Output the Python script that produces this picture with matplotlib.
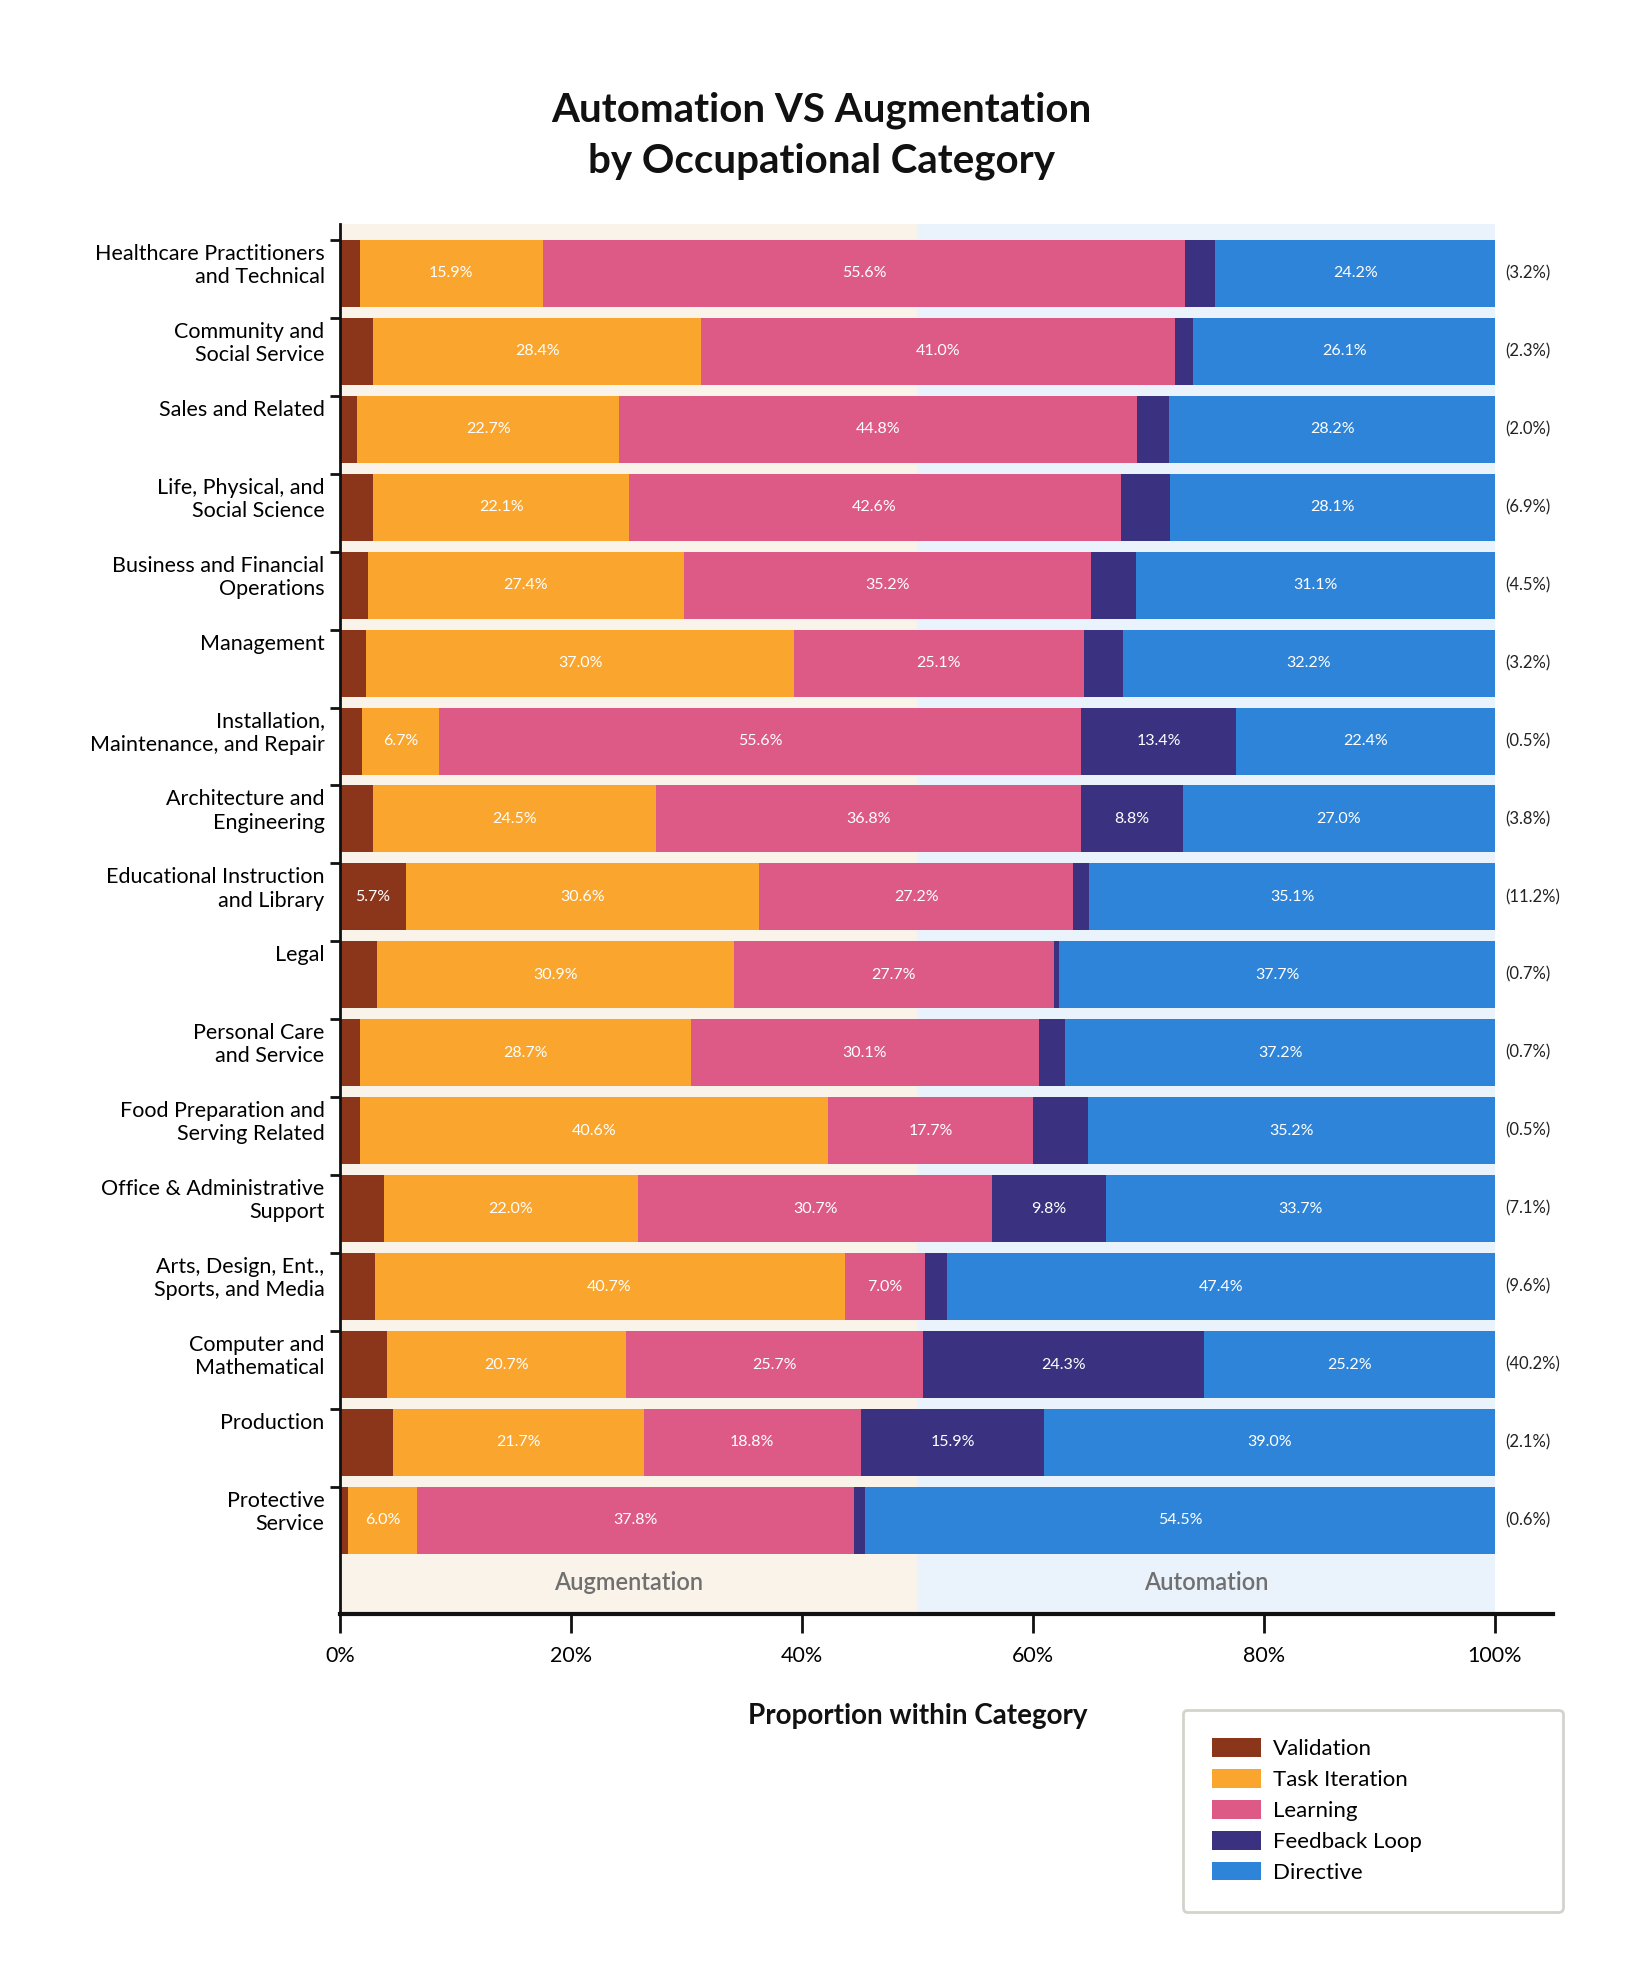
import matplotlib
matplotlib.use('Agg')
import matplotlib.pyplot as plt
import numpy as np
from matplotlib.patches import Patch
import matplotlib.transforms as mtransforms

plt.rcParams['font.family'] = ['Lato', 'DejaVu Sans']
plt.rcParams['ytick.alignment'] = 'top'

# data (percent within category)
categories = [
    'Healthcare Practitioners\nand Technical',
    'Community and\nSocial Service',
    'Sales and Related',
    'Life, Physical, and\nSocial Science',
    'Business and Financial\nOperations',
    'Management',
    'Installation,\nMaintenance, and Repair',
    'Architecture and\nEngineering',
    'Educational Instruction\nand Library',
    'Legal',
    'Personal Care\nand Service',
    'Food Preparation and\nServing Related',
    'Office & Administrative\nSupport',
    'Arts, Design, Ent.,\nSports, and Media',
    'Computer and\nMathematical',
    'Production',
    'Protective\nService',
]
validation     = [1.7, 2.9, 1.5, 2.9, 2.4, 2.3, 1.9, 2.9, 5.7, 3.2, 1.7, 1.7, 3.8, 3.0, 4.1, 4.6, 0.7]
task_iteration = [15.9, 28.4, 22.7, 22.1, 27.4, 37.0, 6.7, 24.5, 30.6, 30.9, 28.7, 40.6, 22.0, 40.7, 20.7, 21.7, 6.0]
learning       = [55.6, 41.0, 44.8, 42.6, 35.2, 25.1, 55.6, 36.8, 27.2, 27.7, 30.1, 17.7, 30.7, 7.0, 25.7, 18.8, 37.8]
feedback_loop  = [2.6, 1.6, 2.8, 4.3, 3.9, 3.4, 13.4, 8.8, 1.4, 0.5, 2.3, 4.8, 9.8, 1.9, 24.3, 15.9, 1.0]
directive      = [24.2, 26.1, 28.2, 28.1, 31.1, 32.2, 22.4, 27.0, 35.1, 37.7, 37.2, 35.2, 33.7, 47.4, 25.2, 39.0, 54.5]
share_labels   = ['(3.2%)', '(2.3%)', '(2.0%)', '(6.9%)', '(4.5%)', '(3.2%)', '(0.5%)', '(3.8%)',
                  '(11.2%)', '(0.7%)', '(0.7%)', '(0.5%)', '(7.1%)', '(9.6%)', '(40.2%)', '(2.1%)', '(0.6%)']

series_names = ['Validation', 'Task Iteration', 'Learning', 'Feedback Loop', 'Directive']
series_colors = ['#8b361a', '#f9a52e', '#de5a86', '#3a3180', '#2e84d9']

fig = plt.figure(figsize=(16.5, 19.73), dpi=100)
ax = fig.add_axes([0.206, 0.182, 0.735, 0.7045])

n = len(categories)
ypos = np.arange(n)
bar_h = 0.86

# background split
ax.axvspan(0, 50, color='#f9f3e9', zorder=0, lw=0)
ax.axvspan(50, 100, color='#eaf3fb', zorder=0, lw=0)

left = np.zeros(n)
all_series = [validation, task_iteration, learning, feedback_loop, directive]
for vals, name, col in zip(all_series, series_names, series_colors):
    vals = np.array(vals)
    ax.barh(ypos, vals, left=left, height=bar_h, color=col, label=name, zorder=2, lw=0)
    for i in range(n):
        if vals[i] >= 5:
            ax.text(left[i] + vals[i] / 2, ypos[i], '{:.1f}%'.format(vals[i]),
                    ha='center', va='center', color='white', fontsize=11.5, zorder=3)
    left = left + vals

# share of all conversations on the right
trans = mtransforms.offset_copy(ax.transData, fig=fig, x=10, y=0, units='dots')
for i in range(n):
    ax.text(100, ypos[i], share_labels[i], transform=trans, ha='left', va='center',
            fontsize=12, color='#222222')

ax.text(25, 16.8, 'Augmentation', ha='center', va='center', fontsize=17,
        color='#707070', fontweight='semibold')
ax.text(75, 16.8, 'Automation', ha='center', va='center', fontsize=17,
        color='#707070', fontweight='semibold')

ax.set_xlim(0, 105)
ax.set_ylim(17.2, -0.635)
ax.set_xticks([0, 20, 40, 60, 80, 100])
ax.set_xticklabels(['0%', '20%', '40%', '60%', '80%', '100%'], fontsize=15.5)
ax.set_yticks(ypos - bar_h / 2)
ax.set_yticklabels(categories, fontsize=15.5, linespacing=1.2)
ax.tick_params(axis='x', length=14, width=2, pad=9, color='#111111')
ax.tick_params(axis='y', length=7, width=2, pad=4, color='#111111')
# nudge the category labels a little below the tick marks
shift = mtransforms.ScaledTranslation(0, -4 / 100, fig.dpi_scale_trans)
for lbl in ax.get_yticklabels():
    lbl.set_transform(lbl.get_transform() + shift)

for s in ['top', 'right']:
    ax.spines[s].set_visible(False)
ax.spines['left'].set_linewidth(2)
ax.spines['bottom'].set_linewidth(3)
ax.spines['left'].set_color('#111111')
ax.spines['bottom'].set_color('#111111')

ax.set_xlabel('Proportion within Category', fontsize=20, fontweight='bold', color='#111111')
ax.xaxis.set_label_coords(50 / 105, -0.064)

fig.text(0.498, 0.931, 'Automation VS Augmentation\nby Occupational Category',
         ha='center', va='center', fontsize=29, fontweight='bold', color='#111111',
         linespacing=1.45)

handles = [Patch(facecolor=c, label=nm) for nm, c in zip(series_names, series_colors)]
leg = fig.legend(handles=handles, loc='upper left', bbox_to_anchor=(0.717, 0.0325, 0.23, 0.101),
                 mode='expand', fontsize=16, frameon=True, fancybox=True, borderaxespad=0,
                 handlelength=2.2, handleheight=0.9, labelspacing=0.45, borderpad=1.3,
                 handletextpad=0.55)
leg.get_frame().set_edgecolor('#c9c9c2')
leg.get_frame().set_linewidth(2)

fig.savefig('out.png', dpi=100, facecolor='white')
